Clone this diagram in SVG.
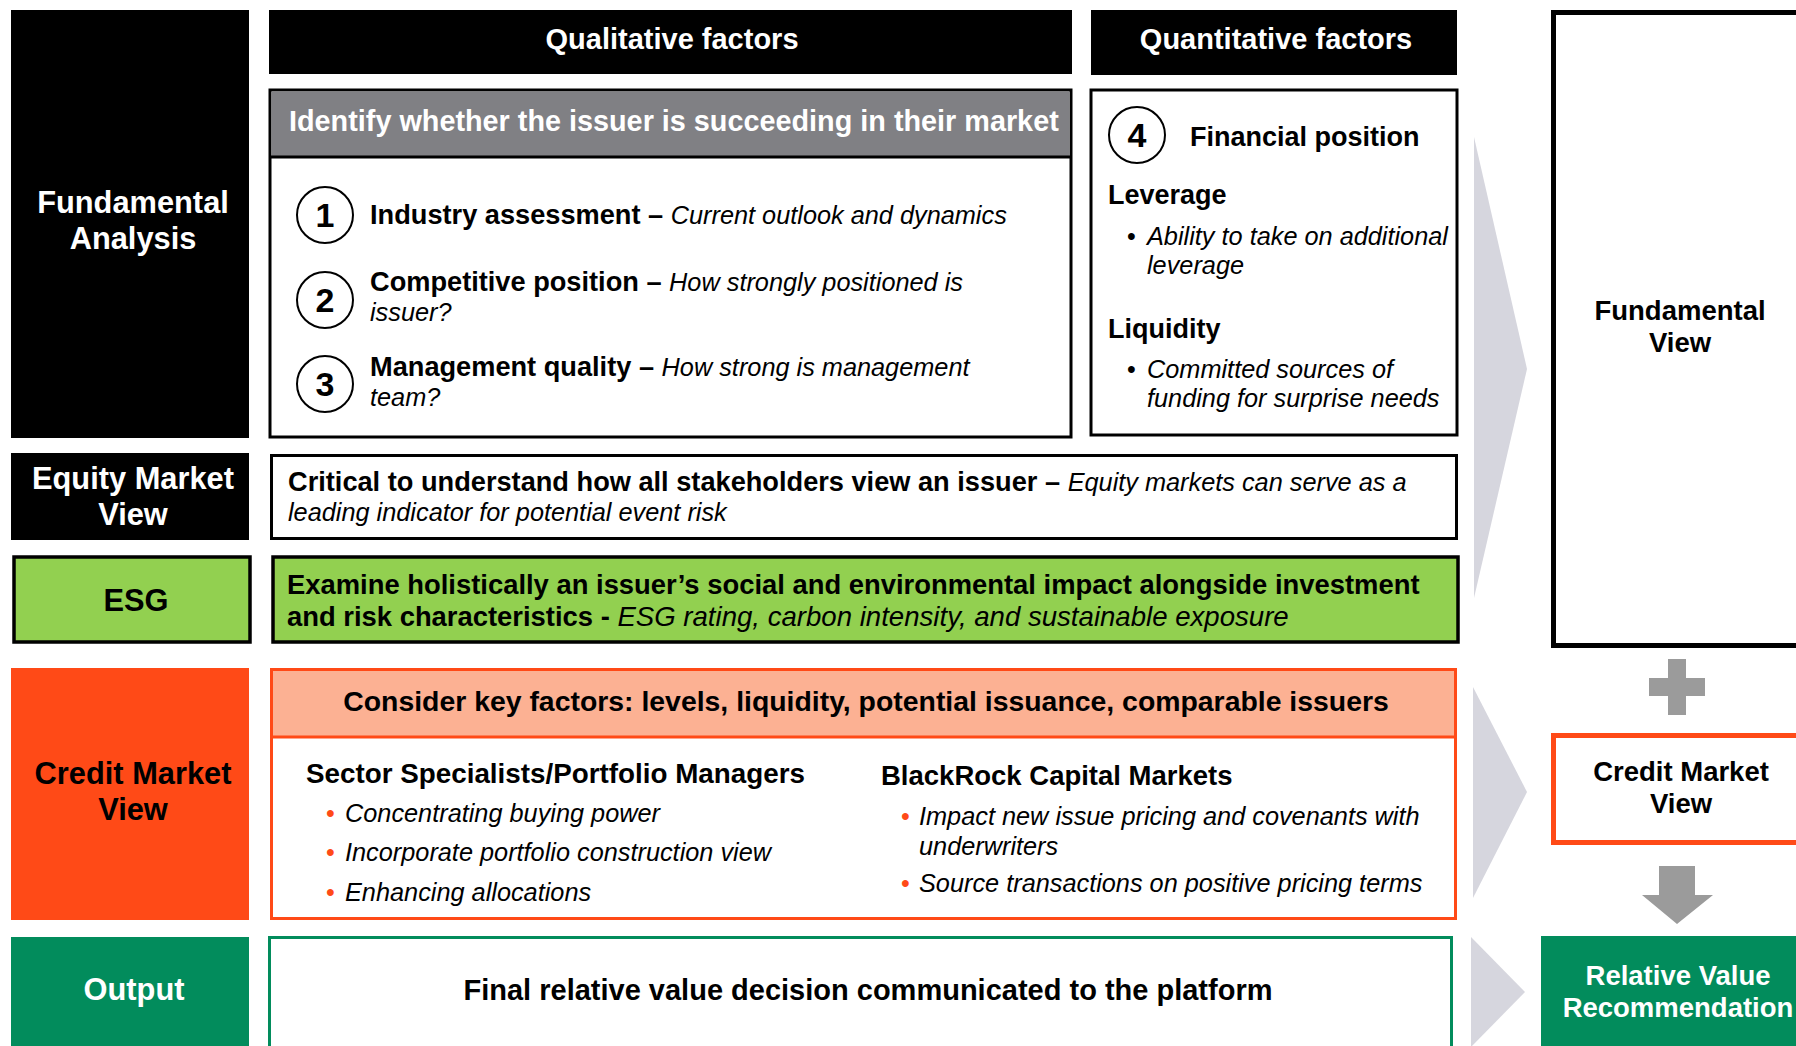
<svg xmlns="http://www.w3.org/2000/svg" width="1796" height="1046" viewBox="0 0 1796 1046">
<defs>
<style>
text{font-family:"Liberation Sans",Arial,sans-serif;}
.b{font-weight:700;}
.i{font-style:italic;font-weight:400;}
.lbl{font-size:30.8px;font-weight:700;text-anchor:middle;}
.rl{font-size:27.5px;font-weight:700;text-anchor:middle;}
.hd{font-size:29px;font-weight:700;fill:#fff;text-anchor:middle;}
.t{font-size:25px;fill:#000;}
.tb{font-size:27.2px;font-weight:700;}
.ti{font-size:25.3px;font-style:italic;font-weight:400;}
.q{font-size:27px;font-weight:700;}
.w{fill:#fff;}
.k{fill:#000;}
.num{font-size:34px;font-weight:700;text-anchor:middle;}
.circ{fill:#fff;stroke:#000;stroke-width:2;}
.chev{fill:#d6d6de;}
.gr{fill:#9b9b9b;}
.ob{fill:#ff4a17;}
</style>
</defs>
<rect width="1796" height="1046" fill="#fff"/>

<g id="connectors">
<polygon class="chev" points="1474,137 1527,369 1474,598"/>
<polygon class="chev" points="1473,687 1527,792 1473,898"/>
<polygon class="chev" points="1471,937 1525,992 1471,1047"/>
<path class="gr" d="M1668,659H1686V678H1705V696H1686V715H1668V696H1649V678H1668Z"/>
<polygon class="gr" points="1659,866 1695,866 1695,895 1713,895 1677,924 1642,895 1659,895"/>
</g>

<g id="fundamental-analysis">
<rect x="11" y="10" width="238" height="428" fill="#000"/>
<text class="lbl w" x="133" y="213">Fundamental<tspan x="133" y="249">Analysis</tspan></text>
</g>

<g id="qualitative-header">
<rect x="269" y="10" width="803" height="64" fill="#000"/>
<text class="hd" x="672" y="49">Qualitative factors</text>
</g>

<g id="quantitative-header">
<rect x="1091" y="10" width="366" height="65" fill="#000"/>
<text class="hd" x="1276" y="49">Quantitative factors</text>
</g>

<g id="qualitative-box">
<rect x="270" y="90" width="801" height="347" fill="#fff" stroke="#000" stroke-width="3"/>
<rect x="271.5" y="91.5" width="798" height="65" fill="#808084"/>
<line x1="270" y1="157" x2="1071" y2="157" stroke="#000" stroke-width="3"/>
<text class="b w" x="289" y="131" font-size="28.8">Identify whether the issuer is succeeding in their market</text>
<circle class="circ" cx="325" cy="215" r="28"/>
<text class="num" x="325" y="227">1</text>
<text x="370" y="224"><tspan class="tb">Industry assessment – </tspan><tspan class="ti">Current outlook and dynamics</tspan></text>
<circle class="circ" cx="325" cy="300" r="28"/>
<text class="num" x="325" y="312">2</text>
<text x="370" y="291"><tspan class="tb">Competitive position – </tspan><tspan class="ti">How strongly positioned is</tspan><tspan class="ti" x="370" y="321">issuer?</tspan></text>
<circle class="circ" cx="325" cy="384" r="28"/>
<text class="num" x="325" y="396">3</text>
<text x="370" y="376"><tspan class="tb">Management quality – </tspan><tspan class="ti">How strong is management</tspan><tspan class="ti" x="370" y="406">team?</tspan></text>
</g>

<g id="quantitative-box">
<rect x="1091" y="90" width="366" height="345" fill="#fff" stroke="#000" stroke-width="3"/>
<circle class="circ" cx="1137" cy="135" r="28"/>
<text class="num" x="1137" y="147">4</text>
<text class="q" x="1190" y="146" font-size="27.4">Financial position</text>
<text class="q" x="1108" y="204">Leverage</text>
<text class="t" x="1127" y="245">•</text>
<text class="ti" x="1147" y="245" font-size="24.6">Ability to take on additional<tspan x="1147" y="274">leverage</tspan></text>
<text class="q" x="1108" y="338">Liquidity</text>
<text class="t" x="1127" y="378">•</text>
<text class="ti" x="1147" y="378" font-size="24.9">Committed sources of<tspan x="1147" y="407">funding for surprise needs</tspan></text>
</g>

<g id="fundamental-view">
<rect x="1553.5" y="12.5" width="260" height="633" fill="#fff" stroke="#000" stroke-width="5"/>
<text class="rl" x="1680" y="320">Fundamental<tspan x="1680" y="352">View</tspan></text>
</g>

<g id="equity-market-view">
<rect x="11" y="453" width="238" height="87" fill="#000"/>
<text class="lbl w" x="133" y="489">Equity Market<tspan x="133" y="525">View</tspan></text>
</g>

<g id="equity-text">
<rect x="271.5" y="455.5" width="1185" height="83" fill="#fff" stroke="#000" stroke-width="3"/>
<text x="288" y="491"><tspan class="tb" font-size="27.3">Critical to understand how all stakeholders view an issuer – </tspan><tspan class="ti" font-size="24.6">Equity markets can serve as a</tspan><tspan class="ti" x="288" y="521" font-size="25.2">leading indicator for potential event risk</tspan></text>
</g>

<g id="esg">
<rect x="14" y="557" width="236" height="85" fill="#92d050" stroke="#000" stroke-width="3.5"/>
<text class="lbl k" x="136" y="611" font-size="32">ESG</text>
</g>

<g id="esg-text">
<rect x="273" y="557" width="1185" height="85" fill="#92d050" stroke="#000" stroke-width="3.5"/>
<text x="287" y="594"><tspan class="b" font-size="27.4">Examine holistically an issuer’s social and environmental impact alongside investment</tspan><tspan class="b" font-size="27.4" x="287" y="626">and risk characteristics - </tspan><tspan class="i" font-size="27.6">ESG rating, carbon intensity, and sustainable exposure</tspan></text>
</g>

<g id="credit-market-view">
<rect x="11" y="668" width="238" height="252" fill="#ff4a17"/>
<text class="lbl k" x="133" y="784">Credit Market<tspan x="133" y="820">View</tspan></text>
</g>

<g id="credit-text">
<rect x="271.5" y="669.5" width="1184" height="249" fill="#fff" stroke="#ff4a17" stroke-width="3"/>
<rect x="273" y="671" width="1181" height="66" fill="#fcb193"/>
<line x1="270" y1="737" x2="1457" y2="737" stroke="#ff4a17" stroke-width="3"/>
<text class="b" x="866" y="711" font-size="28.4" text-anchor="middle">Consider key factors: levels, liquidity, potential issuance, comparable issuers</text>
<text class="b" x="306" y="783" font-size="27.8">Sector Specialists/Portfolio Managers</text>
<text class="b" x="881" y="785" font-size="27.5">BlackRock Capital Markets</text>
<text class="t ob" x="326" y="822">•</text>
<text class="ti" x="345" y="822" font-size="25.1">Concentrating buying power</text>
<text class="t ob" x="326" y="861">•</text>
<text class="ti" x="345" y="861" font-size="25.6">Incorporate portfolio construction view</text>
<text class="t ob" x="326" y="901">•</text>
<text class="ti" x="345" y="901" font-size="25.1">Enhancing allocations</text>
<text class="t ob" x="901" y="825">•</text>
<text class="ti" x="919" y="825" font-size="25.1">Impact new issue pricing and covenants with<tspan x="919" y="855">underwriters</tspan></text>
<text class="t ob" x="901" y="892">•</text>
<text class="ti" x="919" y="892" font-size="25.5">Source transactions on positive pricing terms</text>
</g>

<g id="credit-market-view-right">
<rect x="1553.5" y="735.5" width="260" height="107" fill="#fff" stroke="#ff4a17" stroke-width="5"/>
<text class="rl" x="1681" y="781">Credit Market<tspan x="1681" y="813">View</tspan></text>
</g>

<g id="output">
<rect x="11" y="937" width="238" height="120" fill="#028c5c"/>
<text class="lbl w" x="134" y="1000" font-size="31.5">Output</text>
</g>

<g id="output-text">
<rect x="269.5" y="937.5" width="1182" height="120" fill="#fff" stroke="#028c5c" stroke-width="3"/>
<text class="b" x="868" y="1000" font-size="29" text-anchor="middle">Final relative value decision communicated to the platform</text>
</g>

<g id="relative-value">
<rect x="1541" y="936" width="270" height="120" fill="#028c5c"/>
<text class="rl w" x="1678" y="985">Relative Value<tspan x="1678" y="1017">Recommendation</tspan></text>
</g>
</svg>
